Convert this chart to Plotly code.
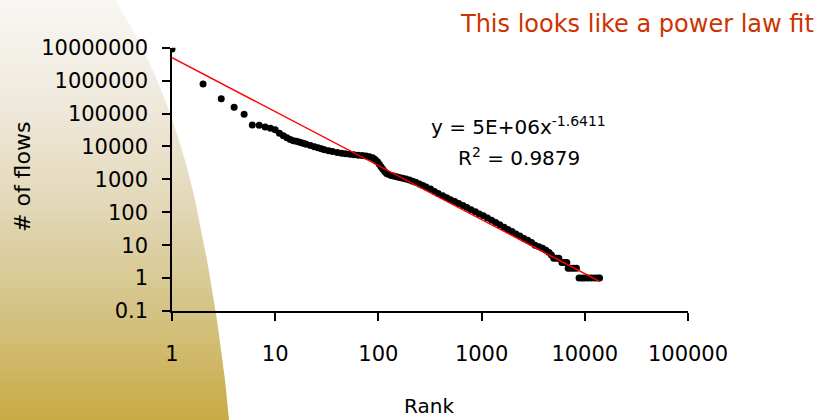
import plotly.graph_objects as go

# Flow counts ordered by rank
ranks = [1, 2, 3, 4, 5, 6, 7, 8, 9, 10, 11, 12, 13, 14, 15, 16, 17, 18, 19, 20,
         22, 24, 26, 28, 30, 33, 36, 40, 44, 48, 53, 58, 64, 70, 76, 82, 88, 93,
         98, 102, 106, 110, 115, 120, 126, 133, 140, 150, 160, 172, 185, 200, 215,
         230, 250, 270, 290, 320, 350, 380, 420, 460, 500, 550, 600, 660, 720, 790,
         870, 950, 1040, 1140, 1250, 1370, 1500, 1650, 1800, 1970, 2150, 2350, 2570,
         2800, 3050, 3300, 3600, 3900, 4200, 4500, 4750, 5000, 5300, 5600, 6000,
         6300, 6700, 6900, 7300, 7800, 8300, 8800, 9400, 10000, 10800, 11600, 12500,
         13400, 13900]
flows = [9.2e6, 7.9e5, 2.8e5, 1.55e5, 9.5e4, 4.5e4, 4.4e4, 3.9e4, 3.6e4, 3.2e4,
         2.5e4, 2.1e4, 1.84e4, 1.62e4, 1.5e4, 1.43e4, 1.37e4, 1.29e4, 1.23e4, 1.17e4,
         10600, 9800, 9100, 8450, 7900, 7400, 7000, 6500, 6200, 5960, 5750, 5600, 5400,
         5300, 5100, 4860, 4500, 4000, 3430, 2900, 2400, 2060, 1730, 1500, 1400, 1320,
         1260, 1190, 1130, 1080, 1020, 955, 876, 811, 720, 649, 583, 507, 425, 370,
         315, 274, 241, 211, 186, 160, 139, 120, 103, 89, 78, 67, 57, 49, 42, 35, 30,
         26, 22, 19, 16, 14, 12, 10, 9, 8, 7, 6, 5, 4, 4, 4, 3, 3, 3, 2, 2, 2, 2, 1, 1,
         1, 1, 1, 1, 1, 1]

# Power-law trendline coefficients
fit_a = 5e6
fit_b = -1.6411
r_squared = 0.9879

x_tick_vals = [1, 10, 100, 1000, 10000, 100000]
x_tick_text = ["1", "10", "100", "1000", "10000", "100000"]
y_tick_vals = [0.1, 1, 10, 100, 1000, 10000, 100000, 1000000, 10000000]
y_tick_text = ["0.1", "1", "10", "100", "1000", "10000", "100000", "1000000", "10000000"]

W, H = 831, 420
FONT = "Comic Sans MS, DejaVu Sans, sans-serif"

fig = go.Figure()

# Decorative gold swoosh on the left side of the slide (pixel space axes)
edge = [(0, 0), (115, 0), (130, 25), (143, 50), (155, 75), (165, 100), (174, 125),
        (182, 150), (189, 175), (195, 200), (201, 230), (207, 260), (212, 290),
        (217, 320), (221, 350), (225, 380), (229, 420), (0, 420), (0, 0)]
fig.add_trace(go.Scatter(
    x=[p[0] for p in edge], y=[p[1] for p in edge],
    mode="lines", fill="toself", line=dict(width=0),
    fillgradient=dict(type="vertical",
                      colorscale=[[0, "#c8ab45"], [0.25, "#d4c282"], [0.5, "#e2d7b6"],
                                  [0.75, "#efe9dc"], [1, "#f8f7f3"]]),
    hoverinfo="skip", showlegend=False, xaxis="x", yaxis="y"))

# Trendline y = a * x^b across the ranked data
x_fit = [ranks[0], ranks[-1]]
y_fit = [fit_a * v ** fit_b for v in x_fit]

fig.add_trace(go.Scatter(
    x=ranks, y=flows, mode="markers",
    marker=dict(color="black", size=7, line=dict(width=0)),
    showlegend=False, xaxis="x2", yaxis="y2"))
fig.add_trace(go.Scatter(
    x=x_fit, y=y_fit, mode="lines", line=dict(color="#ff0000", width=1.5),
    showlegend=False, xaxis="x2", yaxis="y2"))

axis_common = dict(showline=True, linecolor="black", linewidth=1.5, ticks="outside",
                   ticklen=8, tickwidth=1.5, tickcolor="black", showgrid=False,
                   zeroline=False, automargin=False,
                   tickfont=dict(family=FONT, size=21, color="black"))

fig.update_layout(
    width=W, height=H, autosize=False,
    margin=dict(l=0, r=0, t=0, b=0, pad=0, autoexpand=False),
    paper_bgcolor="white", plot_bgcolor="rgba(0,0,0,0)",
    xaxis=dict(domain=[0, 1], range=[0, W], visible=False, fixedrange=True),
    yaxis=dict(domain=[0, 1], range=[H, 0], visible=False, fixedrange=True),
    xaxis2=dict(type="log", range=[0, 5], domain=[172 / W, 688 / W], anchor="y2",
                tickvals=x_tick_vals, ticktext=x_tick_text, ticklabelstandoff=15,
                **axis_common),
    yaxis2=dict(type="log", range=[-1, 7], domain=[(H - 311) / H, (H - 47.7) / H],
                anchor="x2", tickvals=y_tick_vals, ticktext=y_tick_text,
                ticklabelstandoff=10, **axis_common),
    showlegend=False,
)


def px(x, y):
    return x / W, 1 - y / H


annots = [
    dict(text="This looks like a power law fit", pos=(458, 24), xanchor="left",
         size=24, color="#cc3300", angle=0),
    dict(text="y = 5E+06x<sup>%.4f</sup>" % fit_b, pos=(518, 126), xanchor="center",
         size=20, color="black", angle=0),
    dict(text="R<sup>2</sup> = %.4f" % r_squared, pos=(519, 157), xanchor="center",
         size=20, color="black", angle=0),
    dict(text="Rank", pos=(429, 406), xanchor="center", size=20, color="black", angle=0),
    dict(text="# of flows", pos=(22, 177), xanchor="center", size=22, color="black",
         angle=-90),
]
for a in annots:
    ax, ay = px(*a["pos"])
    fig.add_annotation(text=a["text"], x=ax, y=ay, xref="paper", yref="paper",
                       xanchor=a["xanchor"], yanchor="middle", showarrow=False,
                       textangle=a["angle"],
                       font=dict(family=FONT, size=a["size"], color=a["color"]))

fig.write_html("out.html")
